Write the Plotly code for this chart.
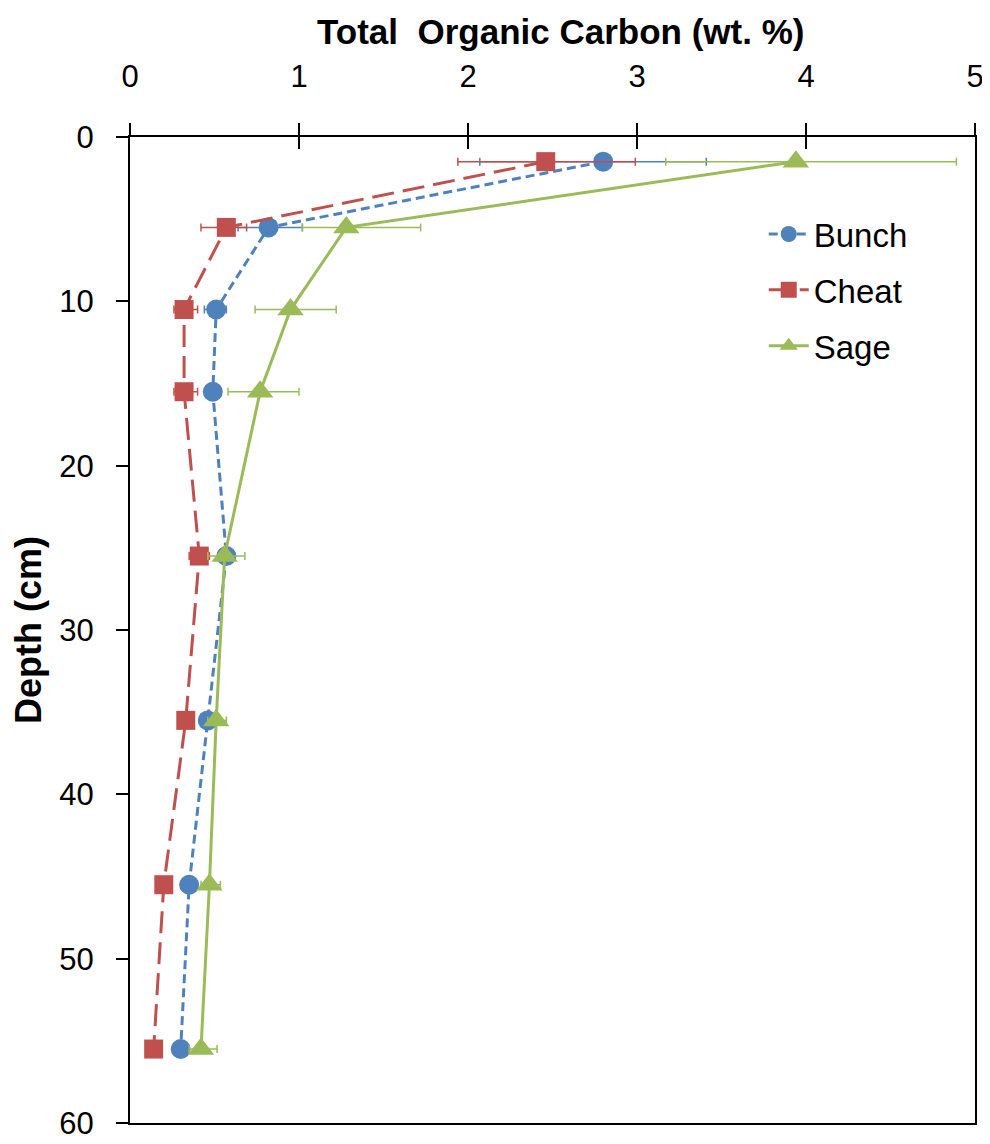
import plotly.graph_objects as go

depth = [1.5, 5.5, 10.5, 15.5, 25.5, 35.5, 45.5, 55.5]

bunch = [2.80, 0.82, 0.51, 0.49, 0.57, 0.46, 0.35, 0.30]
bunch_plus = [0.61, 0.20, 0.06, 0.04, 0.05, 0.04, 0.03, 0.03]
bunch_minus = [0.73, 0.18, 0.07, 0.04, 0.05, 0.04, 0.03, 0.03]

cheat = [2.46, 0.57, 0.32, 0.32, 0.41, 0.33, 0.20, 0.14]
cheat_plus = [0.53, 0.12, 0.08, 0.08, 0.06, 0.03, 0.03, 0.03]
cheat_minus = [0.52, 0.15, 0.06, 0.06, 0.06, 0.03, 0.03, 0.03]

sage = [3.94, 1.28, 0.95, 0.77, 0.56, 0.51, 0.47, 0.42]
sage_plus = [0.95, 0.44, 0.27, 0.23, 0.12, 0.06, 0.065, 0.095]
sage_minus = [0.77, 0.26, 0.21, 0.19, 0.10, 0.05, 0.05, 0.07]

x_ticks = [0, 1, 2, 3, 4, 5]
y_ticks = [0, 10, 20, 30, 40, 50, 60]

FONT = "Liberation Sans, Arial, sans-serif"
BLUE = "#4F81BD"
RED = "#C0504D"
GREEN = "#9BBB59"

series = [
    ("Bunch", bunch, bunch_plus, bunch_minus, BLUE, "9px,5px", "circle", 20),
    ("Cheat", cheat, cheat_plus, cheat_minus, RED, "22px,9px", "square", 19),
    ("Sage", sage, sage_plus, sage_minus, GREEN, "solid", "triangle-up", 23),
]

fig = go.Figure()
for name, vals, ep, em, col, dash, sym, msize in series:
    fig.add_trace(go.Scatter(
        x=vals, y=depth, name=name, mode="lines+markers",
        legendgroup=name,
        line=dict(color=col, width=3, dash=dash),
        marker=dict(color=col, size=msize, symbol=sym, line=dict(width=0)),
        error_x=dict(type="data", symmetric=False, array=ep, arrayminus=em,
                     color=col, thickness=1.5, width=4),
    ))

# helper trace for the cross-tick overlay axis
fig.add_trace(go.Scatter(x=[None], y=[None], xaxis="x2", showlegend=False,
                         hoverinfo="skip"))

fig.update_layout(
    width=982, height=1136,
    margin=dict(l=122, r=15, t=129, b=21, autoexpand=False),
    paper_bgcolor="white", plot_bgcolor="white",
    font=dict(family=FONT, color="black"),
    showlegend=True,
    legend=dict(x=0.750, y=0.930, xanchor="left", yanchor="top",
                font=dict(family=FONT, size=33, color="black"),
                bgcolor="rgba(0,0,0,0)", tracegroupgap=10,
                itemwidth=40),
    annotations=[dict(
        text="<b>Total  Organic Carbon (wt. %)</b>",
        xref="paper", yref="paper", x=0.509, y=1.1075,
        xanchor="center", yanchor="middle", showarrow=False,
        font=dict(family=FONT, size=35, color="black"),
    )],
    xaxis=dict(
        side="top", range=[0, 5], tickvals=x_ticks,
        ticktext=[str(v) for v in x_ticks],
        showgrid=False, zeroline=False, automargin=False,
        showline=True, linecolor="black", linewidth=2, mirror=True,
        ticks="outside", ticklen=12, tickwidth=1.5, tickcolor="black",
        ticklabelstandoff=24,
        tickfont=dict(family=FONT, size=31, color="black"),
    ),
    xaxis2=dict(
        overlaying="x", side="top", range=[0, 5], tickvals=x_ticks,
        showticklabels=False, showgrid=False, zeroline=False,
        automargin=False,
        showline=False, ticks="inside", ticklen=12, tickwidth=1.5,
        tickcolor="black",
    ),
    yaxis=dict(
        range=[60, 0], tickvals=y_ticks,
        ticktext=[str(v) for v in y_ticks],
        showgrid=False, zeroline=False, automargin=False,
        showline=True, linecolor="black", linewidth=2, mirror=True,
        ticks="outside", ticklen=12, tickwidth=1.5, tickcolor="black",
        ticklabelstandoff=16,
        tickfont=dict(family=FONT, size=31, color="black"),
        title=dict(text="<b>Depth (cm)</b>",
                   font=dict(family=FONT, size=36, color="black"),
                   standoff=8),
    ),
)

fig.write_html("out.html")
